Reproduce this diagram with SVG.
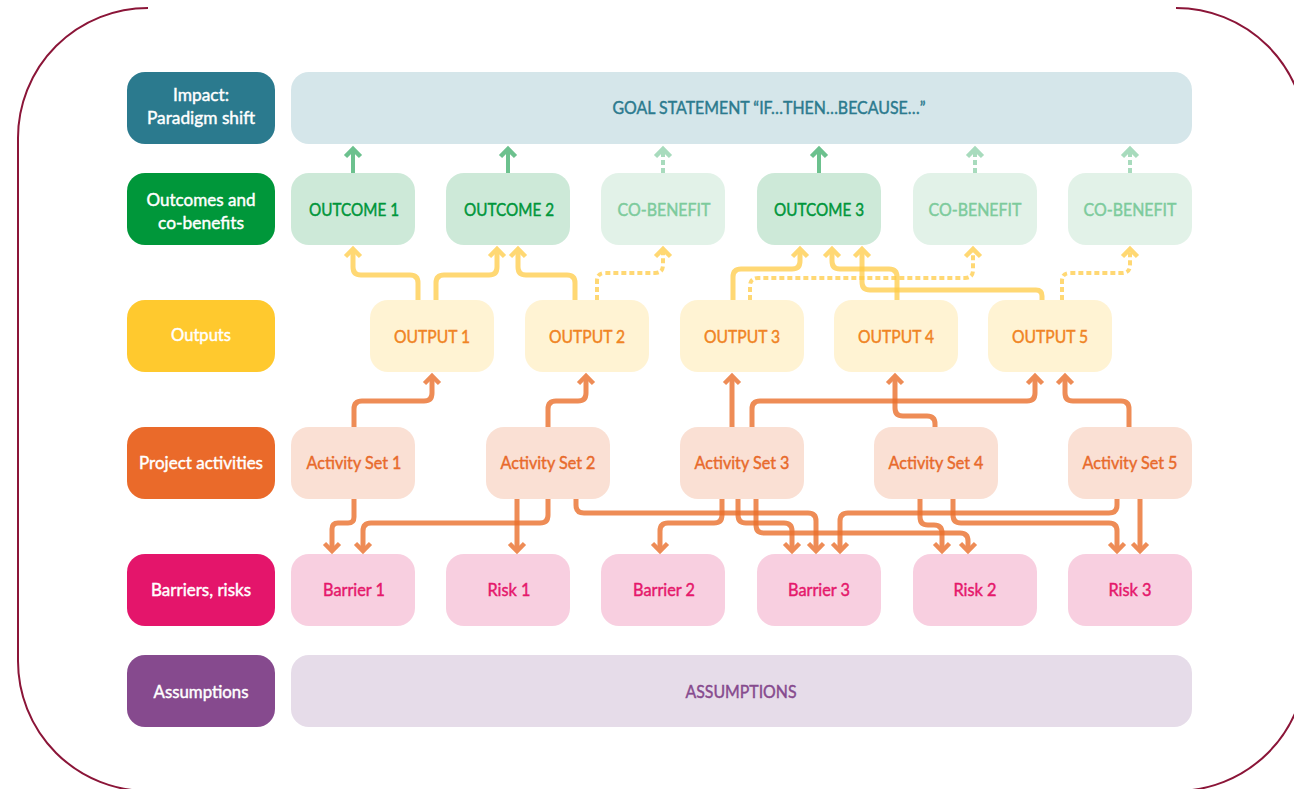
<svg xmlns="http://www.w3.org/2000/svg" width="1294" height="789" viewBox="0 0 1294 789">
  <style>
    text { font-family: Lato, "Open Sans", "Liberation Sans", sans-serif; font-size: 18px; text-anchor: middle; stroke-width: 0.45px; }
    .lbl { fill: #ffffff; stroke: #ffffff; }
    .goal { fill: #d5e6ea; }
    .out  { fill: #cde9d8; }
    .cob  { fill: #e2f2e8; }
    .opt  { fill: #fff3d3; }
    .act  { fill: #fae0d4; }
    .bar  { fill: #f8cfe0; }
    .asm  { fill: #e6dce9; }
    .t-goal { fill: #2b7a8e; stroke: #2b7a8e; }
    .t-out  { fill: #00963a; stroke: #00963a; }
    .t-cob  { fill: #7dcb9c; stroke: #7dcb9c; }
    .t-opt  { fill: #f08424; stroke: #f08424; }
    .t-act  { fill: #e86a2b; stroke: #e86a2b; }
    .t-bar  { fill: #e5186b; stroke: #e5186b; }
    .t-asm  { fill: #864a8e; stroke: #864a8e; }
    .c { fill: none; stroke-linecap: butt; stroke-linejoin: round; }
    .g  { stroke: #6cc18e; stroke-width: 4; marker-end: url(#ahG); }
    .gd { stroke: #a8dbbd; stroke-width: 4; stroke-dasharray: 5 3; marker-end: url(#ahGd); }
    .y  { stroke: #ffcb45; stroke-opacity: 0.75; stroke-width: 5; marker-end: url(#ahY); }
    .yd { stroke: #ffcb45; stroke-opacity: 0.75; stroke-width: 4; stroke-dasharray: 5 3; marker-end: url(#ahY); }
    .o  { stroke: #ea6f2c; stroke-opacity: 0.8; stroke-width: 5; marker-end: url(#ahO); }
  </style>
  <defs>
    <marker id="ahG" markerUnits="userSpaceOnUse" markerWidth="20" markerHeight="20" refX="0" refY="0" orient="auto" overflow="visible">
      <path d="M-7.5,-7.5 L0,0 L-7.5,7.5" fill="none" stroke="#6cc18e" stroke-width="4.5"/>
    </marker>
    <marker id="ahGd" markerUnits="userSpaceOnUse" markerWidth="20" markerHeight="20" refX="0" refY="0" orient="auto" overflow="visible">
      <path d="M-7.5,-7.5 L0,0 L-7.5,7.5" fill="none" stroke="#a8dbbd" stroke-width="4.5"/>
    </marker>
    <marker id="ahY" markerUnits="userSpaceOnUse" markerWidth="20" markerHeight="20" refX="0" refY="0" orient="auto" overflow="visible">
      <path d="M-7.5,-7.5 L0,0 L-7.5,7.5" fill="none" stroke="#ffd873" stroke-width="4.5"/>
    </marker>
    <marker id="ahO" markerUnits="userSpaceOnUse" markerWidth="20" markerHeight="20" refX="0" refY="0" orient="auto" overflow="visible">
      <path d="M-7.5,-7.5 L0,0 L-7.5,7.5" fill="none" stroke="#ee8c56" stroke-width="4.5"/>
    </marker>
  </defs>

  <rect width="1294" height="789" fill="#ffffff"/>

  <!-- outer frame, open along the top edge -->
  <path d="M148,8 A130,130 0 0 0 18,138 V661 A130,130 0 0 0 148,791 H1176 A130,130 0 0 0 1306,661 V138 A130,130 0 0 0 1176,8" fill="none" stroke="#8b1538" stroke-width="2"/>

  <!-- row labels -->
  <g id="label-impact">
    <rect x="127" y="72" width="148" height="72" rx="18" fill="#2b7a8e"/>
    <text class="lbl" x="201" y="101" textLength="56" lengthAdjust="spacingAndGlyphs">Impact:</text>
    <text class="lbl" x="201" y="124" textLength="108" lengthAdjust="spacingAndGlyphs">Paradigm shift</text>
  </g>
  <g id="label-outcomes">
    <rect x="127" y="173" width="148" height="72" rx="18" fill="#00973a"/>
    <text class="lbl" x="201" y="206" textLength="109" lengthAdjust="spacingAndGlyphs">Outcomes and</text>
    <text class="lbl" x="201" y="229" textLength="86" lengthAdjust="spacingAndGlyphs">co-benefits</text>
  </g>
  <g id="label-outputs">
    <rect x="127" y="300" width="148" height="72" rx="18" fill="#ffc92e"/>
    <text class="lbl" x="201" y="341" textLength="60" lengthAdjust="spacingAndGlyphs">Outputs</text>
  </g>
  <g id="label-activities">
    <rect x="127" y="427" width="148" height="72" rx="18" fill="#ea6a2a"/>
    <text class="lbl" x="201" y="469" textLength="124" lengthAdjust="spacingAndGlyphs">Project activities</text>
  </g>
  <g id="label-barriers">
    <rect x="127" y="554" width="148" height="72" rx="18" fill="#e4156b"/>
    <text class="lbl" x="201" y="596" textLength="100" lengthAdjust="spacingAndGlyphs">Barriers, risks</text>
  </g>
  <g id="label-assumptions">
    <rect x="127" y="655" width="148" height="72" rx="18" fill="#864a8e"/>
    <text class="lbl" x="201" y="698" textLength="95" lengthAdjust="spacingAndGlyphs">Assumptions</text>
  </g>

  <!-- goal -->
  <g id="goal">
    <rect class="goal" x="291" y="72" width="901" height="72" rx="18"/>
    <text class="t-goal" x="769" y="114" textLength="313" lengthAdjust="spacingAndGlyphs">GOAL STATEMENT “IF…THEN…BECAUSE…”</text>
  </g>

  <!-- outcomes and co-benefits -->
  <g id="outcome-1"><rect class="out" x="291" y="173" width="124" height="72" rx="18"/><text class="t-out" x="354" y="216" textLength="90" lengthAdjust="spacingAndGlyphs">OUTCOME 1</text></g>
  <g id="outcome-2"><rect class="out" x="446" y="173" width="124" height="72" rx="18"/><text class="t-out" x="509" y="216" textLength="90" lengthAdjust="spacingAndGlyphs">OUTCOME 2</text></g>
  <g id="cobenefit-1"><rect class="cob" x="601" y="173" width="124" height="72" rx="18"/><text class="t-cob" x="664" y="216" textLength="93" lengthAdjust="spacingAndGlyphs">CO-BENEFIT</text></g>
  <g id="outcome-3"><rect class="out" x="757" y="173" width="124" height="72" rx="18"/><text class="t-out" x="819" y="216" textLength="90" lengthAdjust="spacingAndGlyphs">OUTCOME 3</text></g>
  <g id="cobenefit-2"><rect class="cob" x="913" y="173" width="124" height="72" rx="18"/><text class="t-cob" x="975" y="216" textLength="93" lengthAdjust="spacingAndGlyphs">CO-BENEFIT</text></g>
  <g id="cobenefit-3"><rect class="cob" x="1068" y="173" width="124" height="72" rx="18"/><text class="t-cob" x="1130" y="216" textLength="93" lengthAdjust="spacingAndGlyphs">CO-BENEFIT</text></g>

  <!-- outputs -->
  <g id="output-1"><rect class="opt" x="370" y="300" width="124" height="72" rx="18"/><text class="t-opt" x="432" y="343" textLength="76" lengthAdjust="spacingAndGlyphs">OUTPUT 1</text></g>
  <g id="output-2"><rect class="opt" x="525" y="300" width="124" height="72" rx="18"/><text class="t-opt" x="587" y="343" textLength="76" lengthAdjust="spacingAndGlyphs">OUTPUT 2</text></g>
  <g id="output-3"><rect class="opt" x="680" y="300" width="124" height="72" rx="18"/><text class="t-opt" x="742" y="343" textLength="76" lengthAdjust="spacingAndGlyphs">OUTPUT 3</text></g>
  <g id="output-4"><rect class="opt" x="834" y="300" width="124" height="72" rx="18"/><text class="t-opt" x="896" y="343" textLength="76" lengthAdjust="spacingAndGlyphs">OUTPUT 4</text></g>
  <g id="output-5"><rect class="opt" x="988" y="300" width="124" height="72" rx="18"/><text class="t-opt" x="1050" y="343" textLength="76" lengthAdjust="spacingAndGlyphs">OUTPUT 5</text></g>

  <!-- project activities -->
  <g id="activity-1"><rect class="act" x="291" y="427" width="124" height="72" rx="18"/><text class="t-act" x="354" y="469" textLength="95" lengthAdjust="spacingAndGlyphs">Activity Set 1</text></g>
  <g id="activity-2"><rect class="act" x="486" y="427" width="124" height="72" rx="18"/><text class="t-act" x="548" y="469" textLength="95" lengthAdjust="spacingAndGlyphs">Activity Set 2</text></g>
  <g id="activity-3"><rect class="act" x="680" y="427" width="124" height="72" rx="18"/><text class="t-act" x="742" y="469" textLength="95" lengthAdjust="spacingAndGlyphs">Activity Set 3</text></g>
  <g id="activity-4"><rect class="act" x="874" y="427" width="124" height="72" rx="18"/><text class="t-act" x="936" y="469" textLength="95" lengthAdjust="spacingAndGlyphs">Activity Set 4</text></g>
  <g id="activity-5"><rect class="act" x="1068" y="427" width="124" height="72" rx="18"/><text class="t-act" x="1130" y="469" textLength="95" lengthAdjust="spacingAndGlyphs">Activity Set 5</text></g>

  <!-- barriers and risks -->
  <g id="barrier-1"><rect class="bar" x="291" y="554" width="124" height="72" rx="18"/><text class="t-bar" x="354" y="596" textLength="62" lengthAdjust="spacingAndGlyphs">Barrier 1</text></g>
  <g id="risk-1"><rect class="bar" x="446" y="554" width="124" height="72" rx="18"/><text class="t-bar" x="509" y="596" textLength="43" lengthAdjust="spacingAndGlyphs">Risk 1</text></g>
  <g id="barrier-2"><rect class="bar" x="601" y="554" width="124" height="72" rx="18"/><text class="t-bar" x="664" y="596" textLength="62" lengthAdjust="spacingAndGlyphs">Barrier 2</text></g>
  <g id="barrier-3"><rect class="bar" x="757" y="554" width="124" height="72" rx="18"/><text class="t-bar" x="819" y="596" textLength="62" lengthAdjust="spacingAndGlyphs">Barrier 3</text></g>
  <g id="risk-2"><rect class="bar" x="913" y="554" width="124" height="72" rx="18"/><text class="t-bar" x="975" y="596" textLength="43" lengthAdjust="spacingAndGlyphs">Risk 2</text></g>
  <g id="risk-3"><rect class="bar" x="1068" y="554" width="124" height="72" rx="18"/><text class="t-bar" x="1130" y="596" textLength="43" lengthAdjust="spacingAndGlyphs">Risk 3</text></g>

  <!-- assumptions -->
  <g id="assumptions">
    <rect class="asm" x="291" y="655" width="901" height="72" rx="18"/>
    <text class="t-asm" x="741" y="698" textLength="111" lengthAdjust="spacingAndGlyphs">ASSUMPTIONS</text>
  </g>

  <!-- connectors -->
  <g id="connectors" class="c">
    <!-- outcomes / co-benefits to goal -->
    <path class="c g" d="M353,173 V149"/>
    <path class="c g" d="M508,173 V149"/>
    <path class="c g" d="M819,173 V149"/>
    <path class="c gd" d="M663,173 V149"/>
    <path class="c gd" d="M975,173 V149"/>
    <path class="c gd" d="M1130,173 V149"/>

    <!-- outputs to outcomes -->
    <path class="c y" d="M418,300 V283 Q418,275 410,275 H361 Q353,275 353,267 V249"/>
    <path class="c y" d="M436,300 V283 Q436,275 444,275 H489 Q497,275 497,267 V249"/>
    <path class="c y" d="M575,300 V283 Q575,275 567,275 H526 Q518,275 518,267 V249"/>
    <path class="c yd" d="M597,300 V281 Q597,273 605,273 H655 Q663,273 663,265 V249"/>
    <path class="c y" d="M733,300 V277 Q733,269 741,269 H792 Q800,269 800,261 V249"/>
    <path class="c yd" d="M750,300 V286 Q750,278 758,278 H965 Q973,278 973,270 V249"/>
    <path class="c y" d="M897,300 V277 Q897,269 889,269 H840 Q832,269 832,261 V249"/>
    <path class="c y" d="M1042,300 V296 Q1042,290 1036,290 H870 Q862,290 862,282 V249"/>
    <path class="c yd" d="M1062,300 V281 Q1062,273 1070,273 H1122 Q1130,273 1130,265 V249"/>

    <!-- activities to outputs -->
    <path class="c o" d="M354,427 V409 Q354,401 362,401 H424 Q432,401 432,393 V376"/>
    <path class="c o" d="M548,427 V409 Q548,401 556,401 H578 Q586,401 586,393 V376"/>
    <path class="c o" d="M732,427 V376"/>
    <path class="c o" d="M752,427 V409 Q752,401 760,401 H1027 Q1035,401 1035,393 V376"/>
    <path class="c o" d="M935,427 V424 Q935,416 927,416 H903 Q895,416 895,408 V376"/>
    <path class="c o" d="M1129,427 V409 Q1129,401 1121,401 H1073 Q1065,401 1065,393 V376"/>

    <!-- activities to barriers and risks -->
    <path class="c o" d="M354,499 V517 Q354,523 348,523 H338 Q332,523 332,529 V551"/>
    <path class="c o" d="M548,499 V515 Q548,523 540,523 H371 Q363,523 363,531 V551"/>
    <path class="c o" d="M517,499 V551"/>
    <path class="c o" d="M576,499 V505 Q576,513 584,513 H808 Q816,513 816,521 V551"/>
    <path class="c o" d="M722,499 V515 Q722,523 714,523 H668 Q660,523 660,531 V551"/>
    <path class="c o" d="M738,499 V515 Q738,523 746,523 H784 Q792,523 792,531 V551"/>
    <path class="c o" d="M756,499 V525 Q756,533 764,533 H960 Q968,533 968,541 V551"/>
    <path class="c o" d="M1117,499 V505 Q1117,513 1109,513 H848 Q840,513 840,521 V551"/>
    <path class="c o" d="M920,499 V517 Q920,525 928,525 H934 Q942,525 942,533 V551"/>
    <path class="c o" d="M953,499 V515 Q953,523 961,523 H1109 Q1117,523 1117,531 V551"/>
    <path class="c o" d="M1140,499 V551"/>
  </g>
</svg>
